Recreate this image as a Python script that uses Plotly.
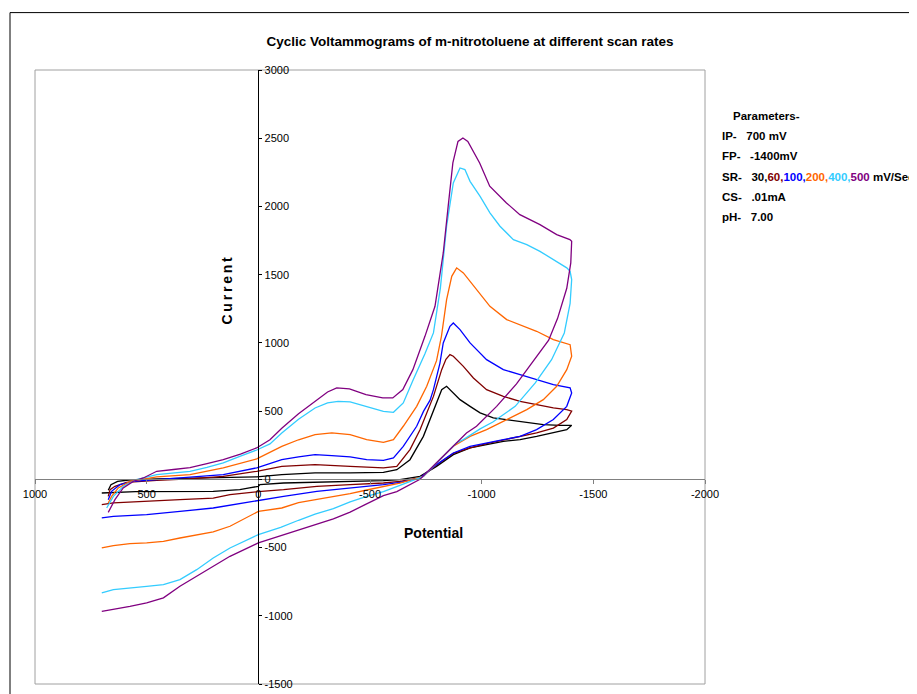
import plotly.graph_objects as go

# ---------------- data (potential in mV, current) ----------------
sr30_potential = [672, 660, 630, 580, 455, 306, 157, 7, -105, -254, -411, -560, -620, -679, -739, -784, -821, -843,
                  -858, -903, -948, -993, -1052, -1127, -1202, -1276, -1351, -1403,
                  -1381, -1321, -1246, -1172, -1097, -1022, -948, -873, -798, -724,
                  -634, -560, -411, -262, -113, -7, 0, 40, 83, 202, 400, 550, 701]
sr30_current = [-80, -40, -15, -5, 3, 8, 12, 18, 34, 47, 47, 51, 71, 144, 315, 511, 657, 682,
                657, 584, 535, 487, 450, 432, 418, 401, 396, 396,
                364, 340, 315, 291, 279, 254, 230, 181, 95, 22,
                -2, -10, -15, -19, -27, -39, -51, -63, -76, -88, -88, -90, -100]

sr60_potential = [672, 664, 642, 590, 455, 306, 157, 7, -105, -254, -411, -560, -620, -679, -724, -784, -821,
                  -840, -858, -873, -918, -963, -1022, -1097, -1172, -1246, -1321, -1381, -1403,
                  -1381, -1321, -1246, -1172, -1097, -1022, -948, -873, -798, -724,
                  -634, -560, -411, -262, -113, 0, 127, 202, 351, 500, 649, 701]
sr60_current = [-125, -76, -51, -22, -7, 3, 22, 59, 95, 108, 95, 84, 95, 218, 364, 608, 804,
                880, 914, 902, 828, 743, 657, 608, 572, 547, 523, 511, 500,
                438, 376, 340, 315, 291, 262, 230, 190, 105, 10,
                -15, -27, -39, -51, -76, -90, -112, -137, -149, -161, -173, -185]

sr100_potential = [672, 657, 620, 560, 455, 306, 157, 7, -105, -180, -254, -329, -411, -485, -560, -605, -649,
                   -709, -740, -769, -784, -813, -828, -858, -873, -903, -948, -1022, -1097, -1172, -1246,
                   -1321, -1396,
                   -1403, -1381, -1321, -1246, -1172, -1097, -1022, -948, -873, -798, -724,
                   -634, -560, -411, -262, -113, 0, 127, 202, 351, 500, 649, 701]
sr100_current = [-149, -88, -39, -15, -2, 18, 34, 84, 144, 165, 181, 174, 164, 144, 139, 157, 242,
                 389, 500, 580, 657, 850, 1000, 1121, 1146, 1097, 1000, 877, 804, 767, 731,
                 694, 670,
                 633, 535, 438, 364, 315, 291, 267, 242, 193, 108, 10,
                 -22, -39, -63, -88, -125, -155, -185, -210, -235, -259, -271, -283]

sr200_potential = [672, 657, 627, 575, 455, 306, 157, 7, -105, -180, -254, -329, -411, -485, -560, -605, -649,
                   -709, -754, -776, -798, -820, -843, -866, -888, -918, -948, -978, -1037, -1112, -1172,
                   -1246, -1321, -1396,
                   -1403, -1381, -1336, -1276, -1202, -1112, -1022, -948, -873, -798, -739,
                   -634, -560, -480, -411, -330, -250, -180, -105, 0, 127, 202, 276, 351, 425, 500, 575,
                   649, 701]
sr200_current = [-173, -125, -63, -15, 18, 34, 84, 150, 242, 290, 328, 340, 328, 291, 271, 291, 389,
                 535, 682, 780, 870, 1050, 1317, 1488, 1550, 1513, 1450, 1391, 1268, 1171, 1134,
                 1085, 1024, 987,
                 902, 804, 682, 584, 511, 438, 364, 315, 242, 120, 22,
                 -27, -55, -80, -105, -125, -150, -170, -210, -235, -344, -385, -405, -430, -454, -466, -471,
                 -486, -503]

sr400_potential = [679, 649, 604, 545, 455, 380, 306, 230, 157, 80, 7, -52, -105, -180, -254, -310, -357, -411,
                   -485, -560, -605, -649, -694, -746, -784, -815, -843, -873, -903, -925, -948, -993, -1037,
                   -1082, -1142, -1202, -1261, -1321, -1381, -1396,
                   -1403, -1396, -1370, -1313, -1240, -1150, -1050, -993, -918, -888, -798, -739,
                   -634, -560, -485, -411, -336, -254, -180, -100, 0, 127, 202, 276, 351, 425, 500, 575,
                   649, 701]
sr400_current = [-210, -125, -51, -2, 34, 45, 59, 88, 120, 170, 215, 260, 340, 440, 523, 560, 572, 567,
                 535, 498, 491, 560, 731, 920, 1073, 1400, 1855, 2172, 2282, 2270, 2184, 2074, 1953,
                 1855, 1757, 1720, 1671, 1610, 1550, 1525,
                 1464, 1290, 1073, 877, 707, 535, 420, 370, 291, 267, 120, 22,
                 -45, -90, -125, -165, -215, -255, -300, -352, -405, -503, -576, -662, -735, -772, -784, -796,
                 -808, -833]

sr500_potential = [672, 642, 605, 560, 515, 455, 380, 306, 230, 157, 80, 8, -52, -105, -180, -254, -310, -351,
                   -408, -482, -557, -602, -647, -692, -746, -791, -828, -850, -871, -894, -916, -938, -965,
                   -991, -1036, -1111, -1171, -1261, -1336, -1395, -1403,
                   -1399, -1381, -1340, -1300, -1231, -1156, -1067, -977, -932, -872, -798, -724,
                   -620, -560, -485, -411, -336, -262, -187, -97, 0, 127, 202, 276, 351, 425, 500, 575,
                   649, 701]
sr500_current = [-242, -149, -63, -15, 10, 59, 72, 86, 115, 144, 185, 230, 290, 375, 480, 572, 640, 670,
                 663, 621, 597, 597, 658, 804, 1048, 1268, 1659, 2000, 2319, 2477, 2502, 2477, 2400,
                 2319, 2148, 2026, 1940, 1867, 1794, 1757, 1745,
                 1586, 1400, 1180, 1020, 870, 700, 535, 389, 340, 242, 120, 0,
                 -90, -120, -180, -240, -290, -330, -370, -418, -466, -564, -638, -711, -784, -869, -906, -931,
                 -950, -968]

scan_rates = ["30", "60", "100", "200", "400", "500"]
colors = ["#000000", "#800000", "#0000FF", "#FF6600", "#33CCFF", "#800080"]

x_ticks = [1000, 500, 0, -500, -1000, -1500, -2000]
y_ticks = [-1500, -1000, -500, 0, 500, 1000, 1500, 2000, 2500, 3000]

X_RANGE = [1000, -2000]
Y_RANGE = [-1500, 3000]

series = [
    (sr30_potential, sr30_current),
    (sr60_potential, sr60_current),
    (sr100_potential, sr100_current),
    (sr200_potential, sr200_current),
    (sr400_potential, sr400_current),
    (sr500_potential, sr500_current),
]

FONT = "Liberation Sans, Arial, sans-serif"

fig = go.Figure()
for (xs, ys), sr, col in zip(series, scan_rates, colors):
    fig.add_trace(go.Scatter(x=xs, y=ys, mode="lines", name=sr + " mV/Sec",
                             line=dict(color=col, width=1.3), showlegend=False))

# positions of the crossing axes in paper coordinates
x_zero_frac = (X_RANGE[0] - 0) / (X_RANGE[0] - X_RANGE[1])
y_zero_frac = (0 - Y_RANGE[0]) / (Y_RANGE[1] - Y_RANGE[0])

# page has an 8px body margin: figure drawn at offset (8, 8)
OFF = 8
W, H = 909, 692
L, T = 35 - OFF, 70 - OFF
pw, ph = 670, 620
R = W - L - pw
B = H - T - ph
SY = 614 / 620  # observed vertical scale of the rendered page


def px_x(p):
    return (p - OFF - L) / pw


def px_y(p):
    return (T + ph - (p - OFF) / SY) / ph


fig.update_layout(
    width=W, height=H,
    margin=dict(l=L, r=R, t=T, b=B),
    paper_bgcolor="white", plot_bgcolor="white",
    font=dict(family=FONT, size=11, color="black"),
    title=dict(text="<b>Cyclic Voltammograms of m-nitrotoluene at different scan rates</b>",
               x=px_x(470), xref="paper", xanchor="center",
               y=1 - (41 - OFF) / H, yref="container", yanchor="middle",
               font=dict(family=FONT, size=13.5, color="black")),
    xaxis=dict(range=X_RANGE, domain=[0, 1], anchor="free", position=y_zero_frac,
               tickmode="array", tickvals=x_ticks, ticktext=[str(v) for v in x_ticks],
               ticks="outside", ticklen=4, tickcolor="#808080",
               showline=True, linecolor="#808080", linewidth=1,
               showgrid=False, zeroline=False, tickfont=dict(size=11)),
    yaxis=dict(range=Y_RANGE, domain=[0, 1], anchor="free", position=x_zero_frac, side="right",
               tickmode="array", tickvals=y_ticks, ticktext=[str(v) for v in y_ticks],
               ticks="outside", ticklen=3, tickcolor="black",
               showline=True, linecolor="black", linewidth=1,
               showgrid=False, zeroline=False, tickfont=dict(size=11)),
)

# plot-area border and outer chart frame
fig.add_shape(type="rect", xref="paper", yref="paper", x0=0, x1=1, y0=0, y1=1,
              line=dict(color="#A0A0A0", width=1), layer="below")
fig.add_shape(type="rect", xref="paper", yref="paper",
              x0=px_x(10), x1=px_x(940), y0=px_y(710), y1=px_y(12),
              line=dict(color="black", width=1), layer="below")

# axis titles
fig.add_annotation(text="<b>Potential</b>", xref="paper", yref="paper",
                   x=px_x(433), y=px_y(532), xanchor="center", yanchor="middle", showarrow=False,
                   font=dict(family=FONT, size=14, color="black"))
TS = "\u2009"
fig.add_annotation(text="<b>" + TS.join("Current") + "</b>", xref="paper", yref="paper",
                   x=px_x(227), y=px_y(290), xanchor="center", yanchor="middle",
                   showarrow=False, textangle=-90,
                   font=dict(family=FONT, size=14, color="black"))

# parameter box
NB = "\u00a0"
sr_text = (f"<span style='color:{colors[0]}'>{scan_rates[0]},</span>"
           f"<span style='color:{colors[1]}'>{scan_rates[1]},</span>"
           f"<span style='color:{colors[2]}'>{scan_rates[2]},</span>"
           f"<span style='color:{colors[3]}'>{scan_rates[3]},</span>"
           f"<span style='color:{colors[4]}'>{scan_rates[4]},</span>"
           f"<span style='color:{colors[5]}'>{scan_rates[5]}</span>")
param_lines = [
    (731, 115, "Parameters-"),
    (720, 135, f"IP-{NB*3}700 mV"),
    (720, 155, f"FP-{NB*3}-1400mV"),
    (720, 176, f"SR-{NB*3}{sr_text} mV/Sec"),
    (720, 196, f"CS-{NB*3}.01mA"),
    (720, 216, f"pH-{NB*3}7.00"),
]
for x, y, txt in param_lines:
    fig.add_annotation(text=f"<b>{txt}</b>", xref="paper", yref="paper",
                       x=px_x(x), y=px_y(y), xanchor="left", yanchor="middle",
                       showarrow=False, font=dict(family=FONT, size=11.5, color="black"))

fig.write_html("out.html")
